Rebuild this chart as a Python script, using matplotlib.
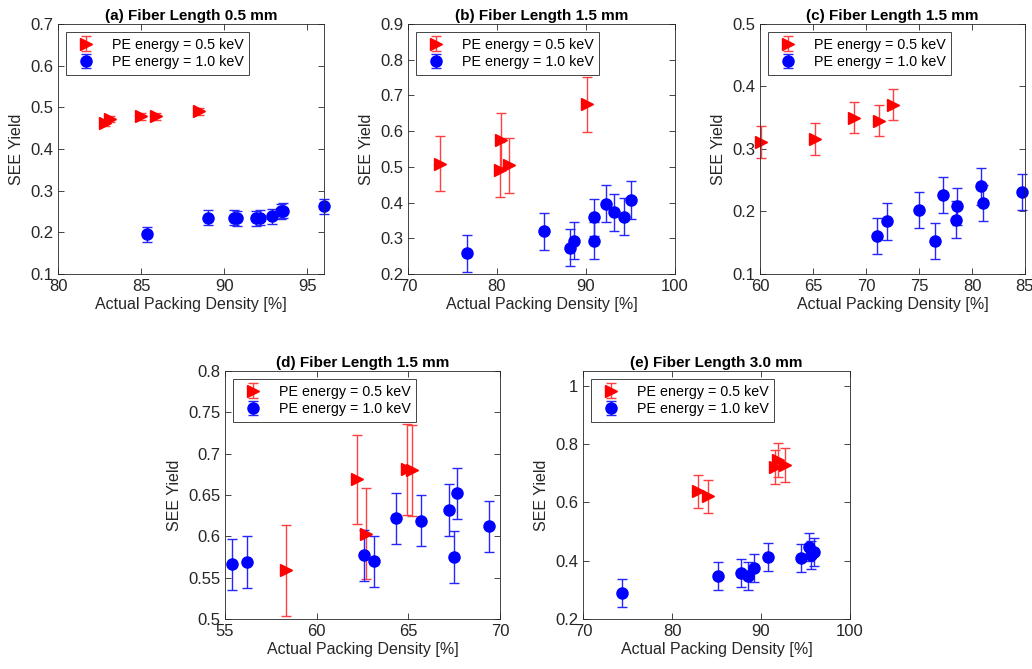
import matplotlib
matplotlib.use("Agg")
import matplotlib.pyplot as plt
from matplotlib.ticker import FuncFormatter

plt.rcParams['font.family'] = ['Liberation Sans', 'DejaVu Sans']

# (a) fiber length 0.5 mm
a_red_x = [82.85, 83.1, 85.0, 85.9, 88.5]
a_red_y = [0.462, 0.472, 0.478, 0.478, 0.490]
a_red_e = [0.008, 0.008, 0.008, 0.008, 0.008]
a_blue_x = [85.36, 89.04, 90.6, 90.74, 91.9, 92.14, 92.88, 93.44, 93.56, 95.98]
a_blue_y = [0.195, 0.235, 0.235, 0.234, 0.234, 0.235, 0.239, 0.250, 0.252, 0.262]
a_blue_e = [0.018] * 10

# (b) fiber length 1.5 mm
b_red_x = [73.6, 80.4, 80.3, 81.3, 90.1]
b_red_y = [0.508, 0.576, 0.492, 0.504, 0.675]
b_red_e = [0.077, 0.076, 0.077, 0.077, 0.077]
b_blue_x = [76.6, 85.3, 88.2, 88.7, 90.85, 90.9, 92.3, 93.15, 94.25, 95.05]
b_blue_y = [0.258, 0.319, 0.274, 0.293, 0.359, 0.293, 0.397, 0.373, 0.360, 0.407]
b_blue_e = [0.052] * 10

# (c) fiber length 1.5 mm
c_red_x = [60.1, 65.2, 68.9, 71.2, 72.5]
c_red_y = [0.311, 0.316, 0.350, 0.345, 0.371]
c_red_e = [0.025] * 5
c_blue_x = [71.0, 71.95, 75.0, 76.5, 77.3, 78.5, 78.6, 80.85, 81.0, 84.75]
c_blue_y = [0.161, 0.184, 0.202, 0.153, 0.226, 0.187, 0.208, 0.240, 0.213, 0.231]
c_blue_e = [0.029] * 10

# (d) fiber length 1.5 mm
d_red_x = [58.3, 62.2, 62.7, 64.95, 65.2]
d_red_y = [0.559, 0.669, 0.603, 0.681, 0.680]
d_red_e = [0.055, 0.054, 0.055, 0.055, 0.055]
d_blue_x = [55.4, 56.2, 62.6, 63.15, 64.3, 65.7, 67.2, 67.65, 67.5, 69.4]
d_blue_y = [0.566, 0.569, 0.577, 0.570, 0.622, 0.619, 0.632, 0.652, 0.575, 0.612]
d_blue_e = [0.031] * 10

# (e) fiber length 3.0 mm
e_red_x = [82.9, 84.1, 91.6, 91.95, 92.7]
e_red_y = [0.637, 0.620, 0.721, 0.744, 0.727]
e_red_e = [0.057, 0.058, 0.058, 0.058, 0.058]
e_blue_x = [74.35, 85.2, 87.75, 88.5, 89.25, 90.8, 94.45, 95.35, 95.6, 95.95]
e_blue_y = [0.288, 0.347, 0.359, 0.346, 0.374, 0.412, 0.410, 0.448, 0.420, 0.428]
e_blue_e = [0.048] * 10

panels = [
    ("(a) Fiber Length 0.5 mm", a_red_x, a_red_y, a_red_e, a_blue_x, a_blue_y, a_blue_e,
     (80, 96), [80, 85, 90, 95], (0.1, 0.7), [0.1, 0.2, 0.3, 0.4, 0.5, 0.6, 0.7],
     [58, 24, 266, 250]),
    ("(b) Fiber Length 1.5 mm", b_red_x, b_red_y, b_red_e, b_blue_x, b_blue_y, b_blue_e,
     (70, 100), [70, 80, 90, 100], (0.2, 0.9), [0.2, 0.3, 0.4, 0.5, 0.6, 0.7, 0.8, 0.9],
     [408, 24, 267, 250]),
    ("(c) Fiber Length 1.5 mm", c_red_x, c_red_y, c_red_e, c_blue_x, c_blue_y, c_blue_e,
     (60, 85), [60, 65, 70, 75, 80, 85], (0.1, 0.5), [0.1, 0.2, 0.3, 0.4, 0.5],
     [760, 24, 265, 250]),
    ("(d) Fiber Length 1.5 mm", d_red_x, d_red_y, d_red_e, d_blue_x, d_blue_y, d_blue_e,
     (55, 70), [55, 60, 65, 70], (0.5, 0.8), [0.5, 0.55, 0.6, 0.65, 0.7, 0.75, 0.8],
     [225, 371, 275, 248]),
    ("(e) Fiber Length 3.0 mm", e_red_x, e_red_y, e_red_e, e_blue_x, e_blue_y, e_blue_e,
     (70, 100), [70, 80, 90, 100], (0.2, 1.05), [0.2, 0.4, 0.6, 0.8, 1.0],
     [583, 371, 267, 248]),
]

W, H = 1032, 669
fig = plt.figure(figsize=(W / 100, H / 100), dpi=100)
dark = "#262626"

for title, rx, ry, re, bx, by, be, xl, xt, yl, yt, box in panels:
    l, t, w, h = box
    ax = fig.add_axes([l / W, 1 - (t + h) / H, w / W, h / H])
    ax.errorbar(rx, ry, yerr=re, fmt=">", color="red", ecolor=(1, 0.25, 0.25),
                markersize=8.5, capsize=3.5, elinewidth=1, capthick=1,
                label="PE energy = 0.5 keV", clip_on=False)
    ax.errorbar(bx, by, yerr=be, fmt="o", color="blue", ecolor=(0.15, 0.15, 1),
                markersize=8, capsize=3.5, elinewidth=1, capthick=1,
                label="PE energy = 1.0 keV", clip_on=False)
    ax.set_xlim(*xl)
    ax.set_ylim(*yl)
    ax.set_xticks(xt)
    ax.set_yticks(yt)
    ax.yaxis.set_major_formatter(FuncFormatter(lambda v, p: f"{v:g}"))
    ax.tick_params(direction="in", top=True, right=True, labelsize=12,
                   colors=dark, length=4, width=0.6)
    for s in ax.spines.values():
        s.set_color(dark)
        s.set_linewidth(0.6)
    ax.set_xlabel("Actual Packing Density [%]", fontsize=11.5, color=dark, labelpad=2)
    ax.set_ylabel("SEE Yield", fontsize=11.5, color=dark, labelpad=4)
    ax.set_title(title, fontsize=11, fontweight="bold", color="black", pad=3)
    leg = ax.legend(loc="upper left", fontsize=10.3, fancybox=False, framealpha=1,
                    edgecolor=dark, borderaxespad=0.55, handlelength=2.0,
                    handletextpad=0.8, labelspacing=0.25, borderpad=0.4)
    leg.get_frame().set_linewidth(0.6)

fig.savefig("out.png", dpi=100)
